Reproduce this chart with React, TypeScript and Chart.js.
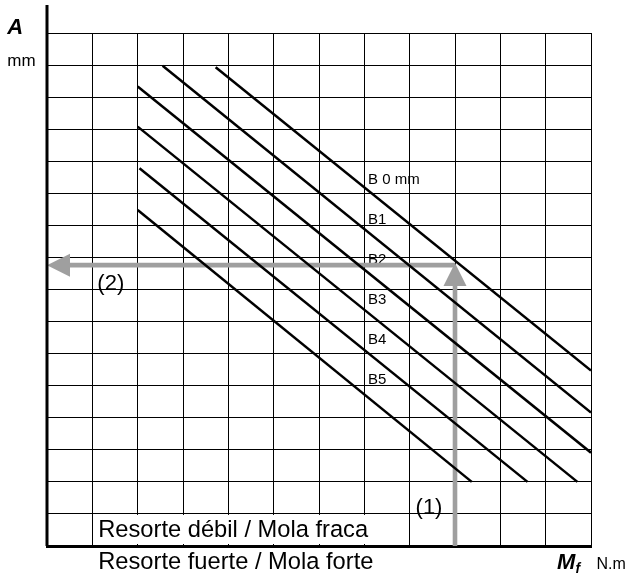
import React, { useEffect, useRef } from 'react';
import { Chart, registerables } from 'chart.js';

Chart.register(...registerables);

// ---- data (grid units: x = moment Mf, y = stroke A) ----
const xMin = 0;
const xMax = 12;
const yMin = 0;
const yMax = 16;

const curveNames = ['B 0 mm', 'B1', 'B2', 'B3', 'B4', 'B5'];
const curveStartX = [3.72, 2.55, 2.0, 2.0, 2.04, 2.0];
const curveStartY = [14.93, 14.98, 14.33, 13.08, 11.78, 10.48];
const curveEndX = [12.0, 12.0, 12.0, 11.7, 10.6, 9.37];
const curveEndY = [5.47, 4.16, 2.91, 2.0, 2.0, 2.0];
const curveLabelX = [7.08, 7.08, 7.08, 7.08, 7.08, 7.08];
const curveLabelY = [11.28, 10.03, 8.79, 7.54, 6.29, 5.04];

// reading example: (1) enter with Mf, (2) read A
const arrowUpX = [9, 9];
const arrowUpY = [0, 8.83];
const arrowLeftX = [9, 0];
const arrowLeftY = [8.76, 8.76];

// vertical axis line (extends above the grid)
const axisLineX = [0, 0];
const axisLineY = [0, 16.87];

// weak-spring band (white box inside the bottom row)
const bandX = [1, 8];
const bandY = [0, 1];

const noteTexts = [
  'A',
  'mm',
  '(2)',
  '(1)',
  'Resorte débil / Mola fraca',
  'Resorte fuerte / Mola forte',
  'M',
  'f',
  'N.m',
];
const noteX = [-0.876, -0.876, 1.11, 8.13, 1.13, 1.13, 11.25, 11.66, 12.12];
const noteY = [15.97, 14.98, 7.97, 1.01, 0.29, -0.73, -0.73, -0.84, -0.73];

// ---- styles ----
const FAMILY = '"Liberation Sans", Arial, Helvetica, sans-serif';
const noteFonts = [
  `italic bold 22px ${FAMILY}`,
  `17px ${FAMILY}`,
  `22px ${FAMILY}`,
  `22px ${FAMILY}`,
  `23.7px ${FAMILY}`,
  `23.7px ${FAMILY}`,
  `italic bold 22px ${FAMILY}`,
  `italic bold 14px ${FAMILY}`,
  `16px ${FAMILY}`,
];
const LABEL_FONT = `15px ${FAMILY}`;
const GRAY = '#9f9f9f';

const overlayPlugin = {
  id: 'overlay',
  beforeDatasetsDraw(chart: any) {
    const { ctx } = chart;
    const xs = chart.scales.x;
    const ys = chart.scales.y;
    ctx.save();
    const l = xs.getPixelForValue(bandX[0]) + 1;
    const r = xs.getPixelForValue(bandX[1]) - 1;
    const t = ys.getPixelForValue(bandY[1]) + 1;
    const b = ys.getPixelForValue(bandY[0]) - 2;
    ctx.fillStyle = '#ffffff';
    ctx.fillRect(l, t, r - l, b - t);

    ctx.fillStyle = '#000';
    ctx.textAlign = 'left';
    ctx.textBaseline = 'alphabetic';
    ctx.font = LABEL_FONT;
    curveNames.forEach((n, i) => {
      ctx.fillText(n, xs.getPixelForValue(curveLabelX[i]), ys.getPixelForValue(curveLabelY[i]));
    });
    noteTexts.forEach((n, i) => {
      ctx.font = noteFonts[i];
      ctx.fillText(n, xs.getPixelForValue(noteX[i]), ys.getPixelForValue(noteY[i]));
    });
    ctx.restore();
  },
  beforeDatasetDraw(chart: any, args: any) {
    const ds = chart.data.datasets[args.index];
    if (!ds.arrowHead) return;
    const pts = args.meta.data;
    const a = pts[pts.length - 2];
    const b = pts[pts.length - 1];
    const ang = Math.atan2(b.y - a.y, b.x - a.x);
    const { ctx } = chart;
    ctx.save();
    ctx.beginPath();
    ctx.rect(0, 0, chart.width, chart.height);
    // cut out the last few px of the shaft so the head tip stays sharp
    const cx = Math.cos(ang);
    const cy = Math.sin(ang);
    const back = 12;
    const w = 5;
    ctx.moveTo(b.x + cx * 1 - cy * w, b.y + cy * 1 + cx * w);
    ctx.lineTo(b.x + cx * 1 + cy * w, b.y + cy * 1 - cx * w);
    ctx.lineTo(b.x - cx * back + cy * w, b.y - cy * back - cx * w);
    ctx.lineTo(b.x - cx * back - cy * w, b.y - cy * back + cx * w);
    ctx.closePath();
    ctx.clip('evenodd');
  },
  afterDatasetDraw(chart: any, args: any) {
    const ds = chart.data.datasets[args.index];
    if (!ds.arrowHead) return;
    const { ctx } = chart;
    ctx.restore();
    const pts = args.meta.data;
    const a = pts[pts.length - 2];
    const b = pts[pts.length - 1];
    const ang = Math.atan2(b.y - a.y, b.x - a.x);
    const len = 23;
    const half = 11.5;
    ctx.save();
    ctx.translate(b.x, b.y);
    ctx.rotate(ang);
    ctx.beginPath();
    ctx.moveTo(0, 0);
    ctx.lineTo(-len, -half);
    ctx.lineTo(-len, half);
    ctx.closePath();
    ctx.fillStyle = ds.borderColor;
    ctx.fill();
    ctx.restore();
  },
};

function pairs(xs: number[], ys: number[]) {
  return xs.map((x, i) => ({ x, y: ys[i] }));
}

export default function App() {
  const ref = useRef<HTMLCanvasElement | null>(null);

  useEffect(() => {
    if (!ref.current) return;

    const curveSets = curveNames.map((name, i) => ({
      label: name,
      data: [
        { x: curveStartX[i], y: curveStartY[i] },
        { x: curveEndX[i], y: curveEndY[i] },
      ],
      showLine: true,
      borderColor: '#000',
      borderWidth: 2.5,
      pointRadius: 0,
      fill: false,
      order: 1,
    }));

    const chart = new Chart(ref.current, {
      type: 'scatter',
      data: {
        datasets: [
          ...curveSets,
          {
            label: '(1)',
            data: pairs(arrowUpX, arrowUpY),
            showLine: true,
            borderColor: GRAY,
            borderWidth: 4.6,
            borderCapStyle: 'butt',
            pointRadius: 0,
            fill: false,
            order: 2,
            arrowHead: true,
          } as any,
          {
            label: '(2)',
            data: pairs(arrowLeftX, arrowLeftY),
            showLine: true,
            borderColor: GRAY,
            borderWidth: 4.6,
            borderCapStyle: 'butt',
            pointRadius: 0,
            fill: false,
            order: 2,
            arrowHead: true,
          } as any,
          {
            label: 'axis',
            data: pairs(axisLineX, axisLineY),
            showLine: true,
            borderColor: '#000',
            borderWidth: 3,
            pointRadius: 0,
            fill: false,
            order: 0,
            clip: false,
          } as any,
        ],
      },
      options: {
        animation: false,
        responsive: false,
        maintainAspectRatio: false,
        devicePixelRatio: 1,
        events: [],
        layout: { padding: { left: 47, right: 43, top: 33, bottom: 34 } },
        plugins: {
          legend: { display: false },
          tooltip: { enabled: false },
        },
        scales: {
          x: {
            type: 'linear',
            min: xMin,
            max: xMax,
            ticks: { display: false, stepSize: 1, autoSkip: false },
            grid: { color: '#000', lineWidth: 1, drawTicks: false },
            border: { display: true, color: '#000', width: 3 },
          },
          y: {
            type: 'linear',
            min: yMin,
            max: yMax,
            ticks: { display: false, stepSize: 1, autoSkip: false },
            grid: { color: '#000', lineWidth: 1, drawTicks: false },
            border: { display: false },
          },
        },
      } as any,
      plugins: [overlayPlugin as any],
    });

    return () => chart.destroy();
  }, []);

  return (
    <div style={{ position: 'absolute', left: 0, top: 0, width: 634, height: 580, background: '#fff' }}>
      <canvas ref={ref} width={634} height={580} style={{ width: 634, height: 580, display: 'block' }} />
    </div>
  );
}
